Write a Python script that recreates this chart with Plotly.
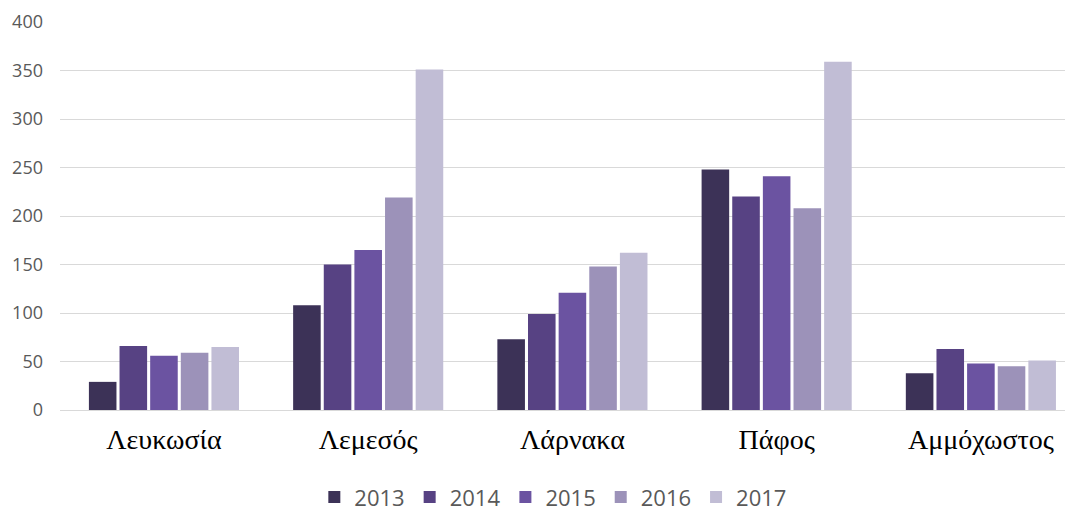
import plotly.graph_objects as go

categories = ["Λευκωσία", "Λεμεσός", "Λάρνακα", "Πάφος", "Αμμόχωστος"]
years = ["2013", "2014", "2015", "2016", "2017"]
values_2013 = [29, 108, 73, 248, 38]
values_2014 = [66, 150, 99, 220, 63]
values_2015 = [56, 165, 121, 241, 48]
values_2016 = [59, 219, 148, 208, 45]
values_2017 = [65, 351, 162, 359, 51]
series = [values_2013, values_2014, values_2015, values_2016, values_2017]
colors = ["#3c3257", "#574283", "#6b53a1", "#9c92b9", "#c1bdd5"]
y_ticks = [0, 50, 100, 150, 200, 250, 300, 350, 400]

fig = go.Figure()
for yr, vals, c in zip(years, series, colors):
    fig.add_trace(go.Bar(x=categories, y=vals, name=yr, marker=dict(color=c, line=dict(width=0))))

fig.update_layout(
    width=1065, height=506,
    margin=dict(l=52, r=0, t=14, b=104, autoexpand=False),
    paper_bgcolor="white", plot_bgcolor="white",
    barmode="group", bargap=0.25, bargroupgap=0.1,
    showlegend=True,
    legend=dict(orientation="h", x=0.487, xanchor="center", y=-0.225, yanchor="middle",
                font=dict(family="Open Sans, Liberation Sans, sans-serif", size=22, color="#595959"),
                itemwidth=30, traceorder="normal"),
    xaxis=dict(range=[-0.509, 4.451], showgrid=False, showline=False, ticks="", automargin=False,
               tickfont=dict(family="Liberation Serif, serif", size=28, color="#000000"),
               ticklabelstandoff=10),
    yaxis=dict(range=[0, 400], tickvals=y_ticks, showgrid=True, gridcolor="#d9d9d9", gridwidth=1,
               zeroline=True, zerolinecolor="#d9d9d9", zerolinewidth=1, automargin=False,
               tickfont=dict(family="Open Sans, Liberation Sans, sans-serif", size=18, color="#595959"),
               ticklabelstandoff=16),
)

fig.write_html("out.html")
